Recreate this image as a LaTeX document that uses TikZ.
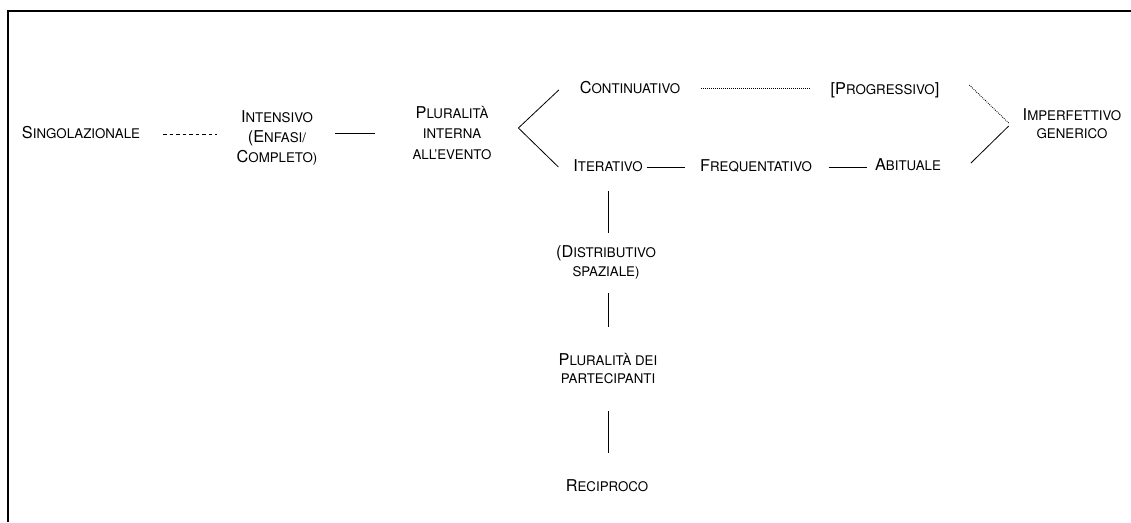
\documentclass[tikz,border=0pt]{standalone}
\usepackage{fontspec}
\setmainfont{TeX Gyre Heros}
\usetikzlibrary{calc}
\newcommand\Bg{\fontsize{16.3}{20}\selectfont}
\newcommand\Sm{\fontsize{13.3}{20}\selectfont}
\newcommand\SmB{\fontsize{13.3}{18}\selectfont}
\newcommand\SmC{\fontsize{13.3}{19}\selectfont}
\newcommand\SmD{\fontsize{13.3}{20.5}\selectfont}
\newcommand\sk[2]{{\Bg #1}{\Sm #2}}
\begin{document}
\begin{tikzpicture}[x=1pt,y=-1pt,
  lbl/.style={inner sep=0pt, outer sep=0pt, font=\Sm, align=center, anchor=base},
  ln/.style={line width=0.8pt},
  dashl/.style={line width=0.9pt, dash pattern=on 3.5pt off 3pt},
  dotl/.style={line width=0.9pt, dash pattern=on 0.8pt off 1.2pt}]
\useasboundingbox (0,0) rectangle (1131,522);
\draw[line width=1.6pt] (8,522) -- (8,11) -- (1131,11);

\node[lbl] (sing) at (81,138) {\sk{S}{INGOLAZIONALE}};
\node[lbl] (int)  at (277,162) {\sk{I}{NTENSIVO}\\\sk{(E}{NFASI/}\\\sk{C}{OMPLETO)}};
\node[lbl, font=\SmD] (plur) at (452,159) {\sk{P}{LURALITÀ}\\INTERNA\\ALL’EVENTO};
\node[lbl] (cont) at (630,93) {\sk{C}{ONTINUATIVO}};
\node[lbl] (prog) at (885,94) {{\Bg [P}{\Sm ROGRESSIVO}{\Bg ]}};
\node[lbl, font=\SmB] (impf) at (1072,138) {\sk{I}{MPERFETTIVO}\\GENERICO};
\node[lbl] (iter) at (608,171) {\sk{I}{TERATIVO}};
\node[lbl] (freq) at (756,171) {\sk{F}{REQUENTATIVO}};
\node[lbl] (abit) at (908,170) {\sk{A}{BITUALE}};
\node[lbl, font=\SmC] (dist) at (606,276) {\sk{(D}{ISTRIBUTIVO}\\SPAZIALE)};
\node[lbl, font=\SmB] (plud) at (608,383) {\sk{P}{LURALITÀ DEI}\\PARTECIPANTI};
\node[lbl] (reci) at (607,491) {\sk{R}{ECIPROCO}};

\draw[dashl] ($(sing.base east)+(23,-4)$) -- ($(int.west|-sing.base east)+(-20,-4)$);
\draw[ln] ($(int.east|-sing.base east)+(18,-5)$) -- ($(plur.west|-sing.base east)+(-38,-5)$);
\draw[ln] ($(cont.base west)+(-21,-3)$) -- ($(plur.east|-cont.base west)+(27,35)$) -- ($(iter.base west)+(-15,-4)$);
\draw[dotl] ($(cont.base east)+(21,-5)$) -- ($(prog.base west|-cont.base east)+(-20,-5)$);
\draw[dotl] ($(prog.base east)+(30,-9)$) -- ($(impf.west|-prog.base east)+(-14,29)$);
\draw[ln] ($(abit.base east)+(30,-7)$) -- ($(impf.west|-abit.base east)+(-14,-44)$);
\draw[ln] ($(iter.base east)+(4,-4)$) -- ($(freq.base west)+(-15,-4)$);
\draw[ln] ($(freq.base east)+(17,-4)$) -- ($(abit.base west|-freq.base east)+(-8,-4)$);
\draw[ln] ($(iter.base)+(0,20)$) -- ($(iter.base|-dist.north)+(0,-12)$);
\draw[ln] ($(iter.base|-dist.south)+(0,14)$) -- ($(iter.base|-plud.north)+(0,-26)$);
\draw[ln] ($(iter.base|-plud.south)+(0,28)$) -- ($(iter.base|-reci.north)+(0,-26)$);
\end{tikzpicture}
\end{document}
